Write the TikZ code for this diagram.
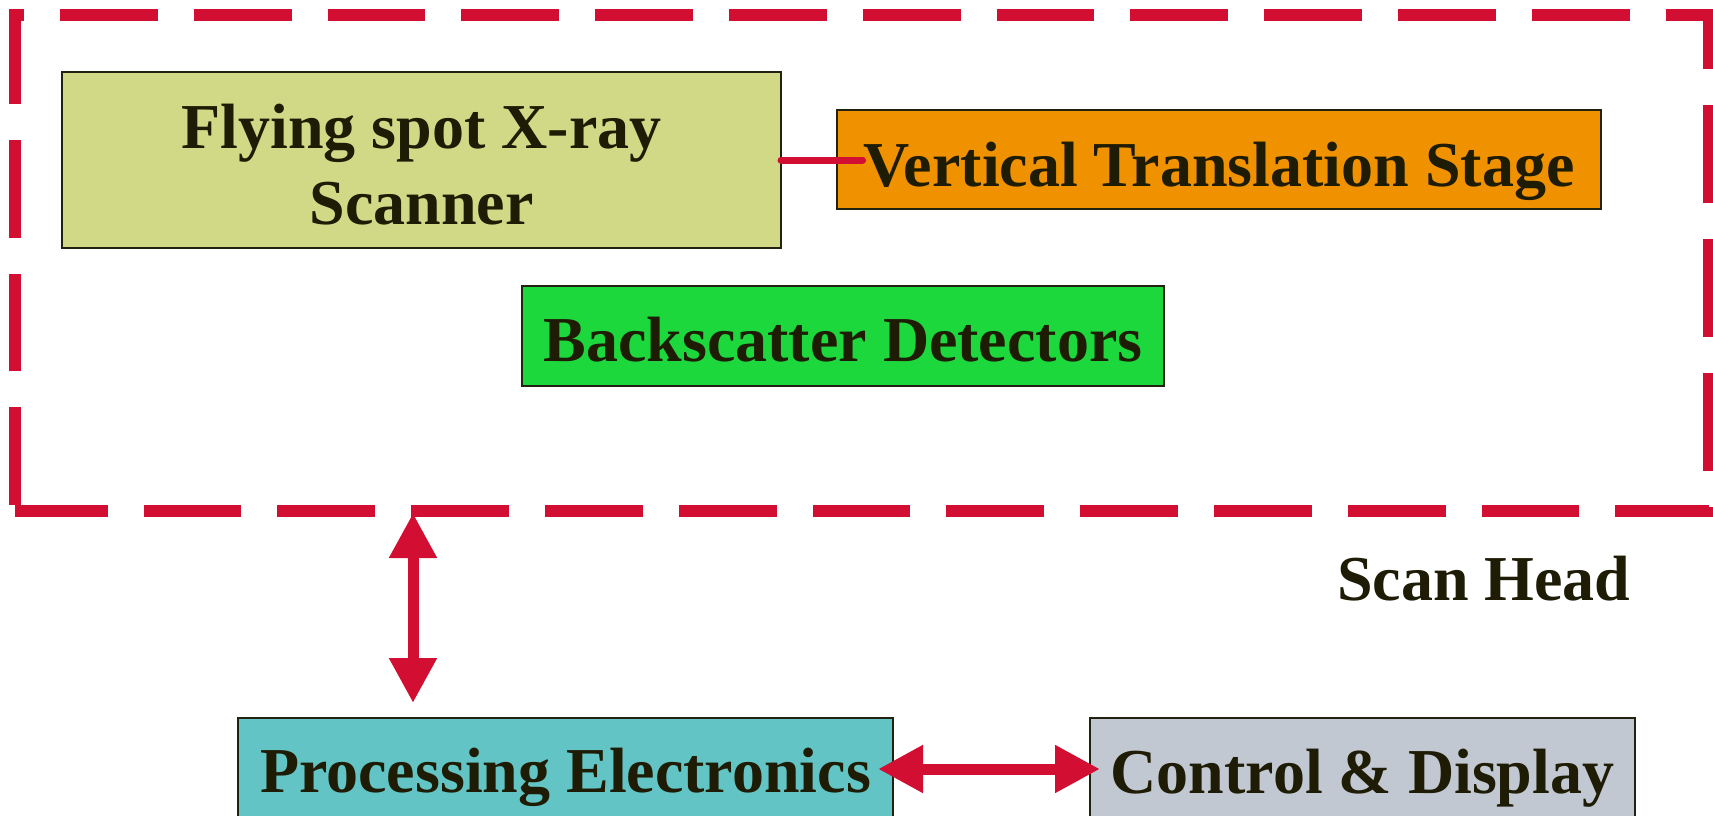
\documentclass[tikz,border=0pt]{standalone}
\usepackage{fontspec}
\setmainfont{Liberation Serif}
\usetikzlibrary{arrows.meta}
\definecolor{redline}{RGB}{210,15,50}
\definecolor{boxedge}{RGB}{34,34,17}
\definecolor{txt}{RGB}{30,28,5}
\definecolor{flyfill}{RGB}{210,217,134}
\definecolor{vtsfill}{RGB}{240,146,0}
\definecolor{bsdfill}{RGB}{28,216,60}
\definecolor{procfill}{RGB}{98,196,196}
\definecolor{ctrlfill}{RGB}{194,200,210}
\begin{document}
\begin{tikzpicture}[x=1pt,y=-1pt,
  box/.style={draw=boxedge, line width=2pt, rectangle, inner sep=0pt, outer sep=0pt, text=txt, font=\fontsize{64}{76}\selectfont\bfseries},
  lbl/.style={inner sep=0pt, outer sep=0pt, text=txt, font=\fontsize{64}{76}\selectfont\bfseries},
  frame/.style={draw=redline, line width=12pt, dash pattern=on 97.8pt off 36pt, dash phase=128pt},
  dbl/.style={draw=redline, line width=11pt, {Triangle[length=45pt,width=45pt]}-{Triangle[length=45pt,width=45pt]}},
  link/.style={draw=redline, line width=7pt, line cap=round}]
\useasboundingbox (0,0) rectangle (1713,816);
\clip (0,0) rectangle (1713,816);
\draw[frame] (15,511) -- (15,15) -- (1709,15) -- (1709,511) -- cycle;
\node[box, fill=flyfill, minimum width=719pt, minimum height=176pt] (fly) at (421.5,160) {};
\node[lbl, align=center] (flytxt) at (421.5,165) {Flying spot X-ray\\Scanner};
\node[box, fill=vtsfill, minimum width=764pt, minimum height=99pt, text height=53pt, text depth=0pt] (vts) at (1219,159.5) {Vertical Translation Stage};
\node[box, fill=bsdfill, minimum width=642pt, minimum height=100pt, text height=50pt, text depth=0pt] (bsd) at (843,336) {Backscatter Detectors};
\node[box, fill=procfill, minimum width=655pt, minimum height=102pt, text height=46pt, text depth=0pt] (proc) at (565.5,769) {Processing Electronics};
\node[box, fill=ctrlfill, minimum width=545pt, minimum height=102pt, text height=48pt, text depth=0pt] (ctrl) at (1362.5,769) {Control \& Display};
\node[lbl, anchor=base west] (sh) at (1337,600) {Scan Head};
\coordinate (shb) at (413,511);
\draw[dbl, shorten <=2pt, shorten >=15pt] (shb) -- (shb |- proc.north);
\draw[dbl, shorten <=-15pt, shorten >=-10pt] (proc.east) -- (ctrl.west);
\draw[link] (fly.east) -- ([xshift=25.6pt]vts.west |- fly.east);
\end{tikzpicture}
\end{document}
